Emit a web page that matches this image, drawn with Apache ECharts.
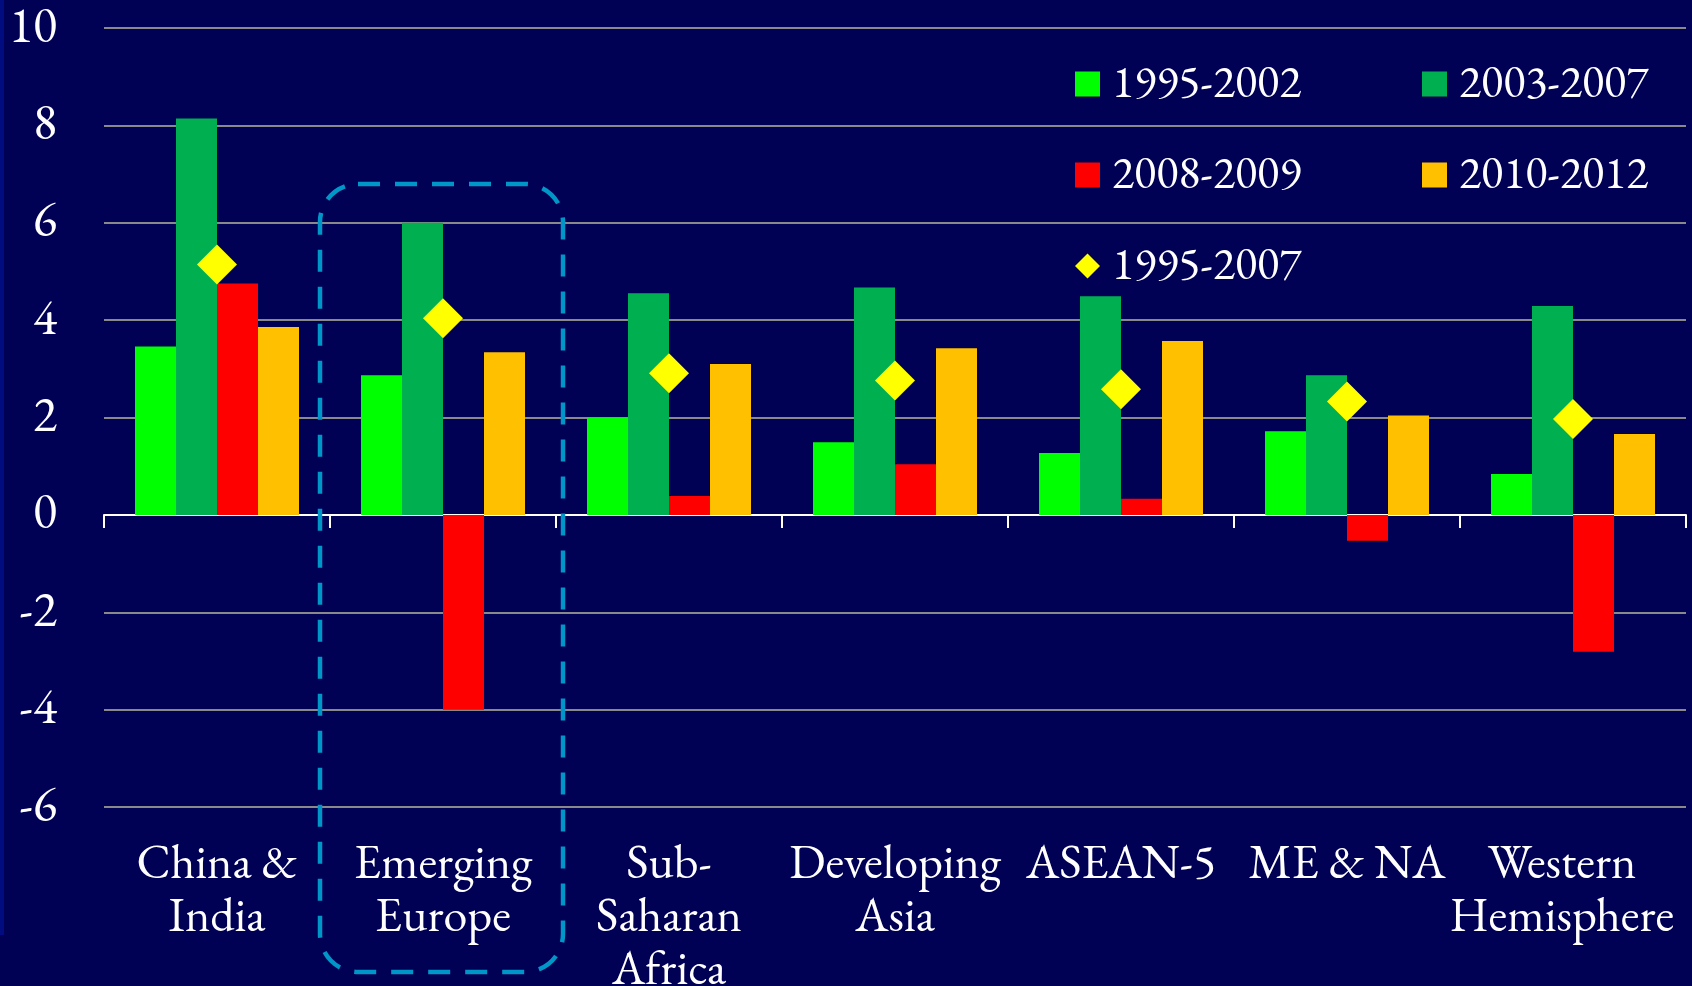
<!DOCTYPE html>
<html>
<head>
<meta charset="utf-8">
<script src="https://cdn.jsdelivr.net/npm/echarts@6/dist/echarts.min.js"></script>
<style>
  html, body { margin: 0; padding: 0; background: #000055; }
  #chart { width: 1692px; height: 986px; }
</style>
</head>
<body>
<div id="chart"></div>
<script>
// regions (category axis)
var regions = ['China &\nIndia', 'Emerging\nEurope', 'Sub-\nSaharan\nAfrica', 'Developing\nAsia', 'ASEAN-5', 'ME & NA', 'Western\nHemisphere'];

// growth by period
var g1995_2002 = [3.46, 2.87, 2.00, 1.49, 1.27, 1.72, 0.84];
var g2003_2007 = [8.14, 6.00, 4.55, 4.67, 4.49, 2.87, 4.29];
var g2008_2009 = [4.75, -4.00, 0.39, 1.04, 0.33, -0.53, -2.81];
var g2010_2012 = [3.86, 3.34, 3.10, 3.42, 3.57, 2.04, 1.66];
var g1995_2007 = [5.14, 4.04, 2.91, 2.76, 2.58, 2.33, 1.97];

var font = 'EB Garamond';

function oneLegend(name, left, top, icon) {
    return {
        data: [name], left: left, top: top, padding: 0,
        itemWidth: 25, itemHeight: 25, icon: icon, selectedMode: false,
        textStyle: { color: '#fff', fontSize: 46, fontFamily: font, lineHeight: 46, padding: [0, 0, 0, 7] }
    };
}

function barSeries(name, color, data) {
    return {
        name: name, type: 'bar', data: data,
        barWidth: 41, barGap: '0%',
        itemStyle: { color: color }
    };
}

var myChart = echarts.init(document.getElementById('chart'));

var option = {
    backgroundColor: '#000055',
    animation: false,
    textStyle: { fontFamily: font },
    grid: { left: 104, right: 6, top: 28, bottom: 179, outerBoundsMode: 'none', containLabel: false },
    legend: [
        oneLegend('1995-2002', 1075, 61, 'rect'),
        oneLegend('2003-2007', 1422, 61, 'rect'),
        oneLegend('2008-2009', 1075, 152, 'rect'),
        oneLegend('2010-2012', 1422, 152, 'rect'),
        oneLegend('1995-2007', 1075, 243, 'diamond')
    ],
    xAxis: [
        {
            type: 'category', data: regions, position: 'bottom',
            axisLine: { onZero: true, lineStyle: { color: '#fff', width: 2 } },
            axisTick: { show: true, length: 13, lineStyle: { color: '#fff', width: 2 } },
            axisLabel: { show: false }
        },
        {
            type: 'category', data: regions, position: 'bottom',
            axisLine: { show: false, onZero: false },
            axisTick: { show: false },
            axisLabel: {
                interval: 0, color: '#fff', fontSize: 48, fontFamily: font,
                lineHeight: 53, margin: 31,
                // last label sits a little left, as in the picture
                formatter: function (value, idx) {
                    return idx === regions.length - 1 ? '{shift|' + value + '}' : value;
                },
                rich: {
                    shift: { color: '#fff', fontSize: 48, fontFamily: font, lineHeight: 53, padding: [0, 22, 0, 0] }
                }
            }
        }
    ],
    yAxis: {
        type: 'value', min: -6, max: 10, interval: 2,
        axisLine: { show: false },
        axisTick: { show: false },
        axisLabel: { color: '#fff', fontSize: 50, fontFamily: font, margin: 47 },
        splitLine: { lineStyle: { color: '#898989', width: 2 } }
    },
    series: [
        barSeries('1995-2002', '#00ff00', g1995_2002),
        barSeries('2003-2007', '#00b050', g2003_2007),
        barSeries('2008-2009', '#ff0000', g2008_2009),
        barSeries('2010-2012', '#ffc000', g2010_2012),
        {
            name: '1995-2007', type: 'scatter', data: g1995_2007,
            symbol: 'diamond', symbolSize: 40, z: 5,
            itemStyle: { color: '#ffff00', opacity: 1 }
        }
    ],
    graphic: [
        // thin lighter strip on the left edge
        { type: 'rect', left: 0, top: 0, shape: { width: 4, height: 935 }, style: { fill: '#000c80' }, z: 0 },
        // dashed box round Emerging Europe
        {
            type: 'rect', z: 10,
            shape: { x: 320, y: 184, width: 243, height: 788, r: 38 },
            style: { fill: 'none', stroke: '#0096c8', lineWidth: 4.5, lineDash: [22, 15] }
        }
    ]
};

myChart.setOption(option);
</script>
</body>
</html>
